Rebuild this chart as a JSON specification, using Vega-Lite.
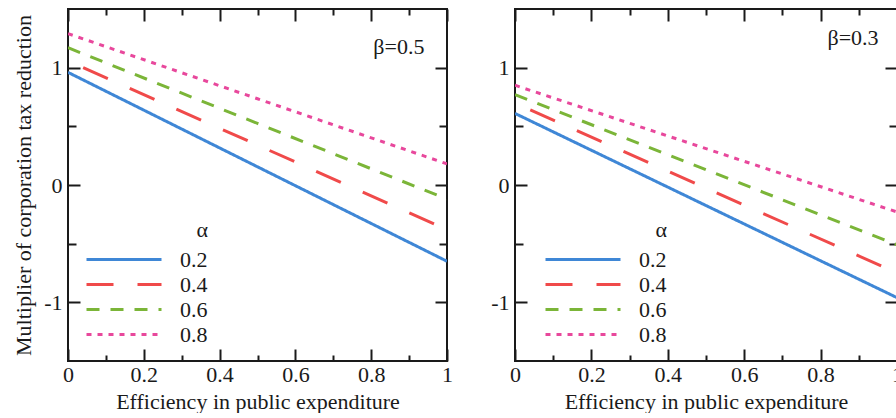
{
  "$schema": "https://vega.github.io/schema/vega-lite/v6.json",
  "background": "white",
  "padding": {"left": 11, "top": 7, "right": 0, "bottom": 0},
  "config": {
    "font": "Liberation Serif",
    "view": {"stroke": "#1a1a1a", "strokeWidth": 2},
    "axis": {
      "domain": false, "grid": false,
      "labelFont": "Liberation Serif", "labelFontSize": 22, "labelColor": "#1a1a1a",
      "titleFont": "Liberation Serif", "titleFontSize": 22, "titleFontWeight": "normal", "titleColor": "#1a1a1a",
      "tickColor": "#1a1a1a", "tickWidth": 2
    },
    "legend": {
      "orient": "none", "legendY": 211,
      "titleFont": "Liberation Serif", "titleFontSize": 22, "titleFontWeight": "normal", "titleColor": "#1a1a1a",
      "titleAnchor": "end", "titlePadding": 4,
      "symbolType": "M-1,0H5.25", "symbolSize": 576, "symbolStrokeWidth": 3, "symbolFillColor": "transparent",
      "labelFont": "Liberation Serif", "labelFontSize": 22, "labelColor": "#1a1a1a", "labelOffset": 68, "rowPadding": 0
    },
    "concat": {"spacing": 68}
  },
  "bounds": "flush",
  "resolve": {
    "scale": {"color": "independent", "strokeDash": "independent"},
    "legend": {"color": "independent", "strokeDash": "independent"}
  },
  "datasets": {
    "b05": [
      {"alpha": "0.2", "efficiency": 0, "multiplier": 0.96},
      {"alpha": "0.2", "efficiency": 0.5, "multiplier": 0.155},
      {"alpha": "0.2", "efficiency": 1, "multiplier": -0.65},
      {"alpha": "0.4", "efficiency": 0.04, "multiplier": 1.0},
      {"alpha": "0.4", "efficiency": 0.5, "multiplier": 0.34},
      {"alpha": "0.4", "efficiency": 1, "multiplier": -0.38},
      {"alpha": "0.6", "efficiency": 0, "multiplier": 1.17},
      {"alpha": "0.6", "efficiency": 0.5, "multiplier": 0.525},
      {"alpha": "0.6", "efficiency": 1, "multiplier": -0.12},
      {"alpha": "0.8", "efficiency": 0, "multiplier": 1.29},
      {"alpha": "0.8", "efficiency": 0.5, "multiplier": 0.735},
      {"alpha": "0.8", "efficiency": 1, "multiplier": 0.18}
    ],
    "b03": [
      {"alpha": "0.2", "efficiency": 0, "multiplier": 0.61},
      {"alpha": "0.2", "efficiency": 0.5, "multiplier": -0.175},
      {"alpha": "0.2", "efficiency": 1, "multiplier": -0.96},
      {"alpha": "0.4", "efficiency": 0.04, "multiplier": 0.64},
      {"alpha": "0.4", "efficiency": 0.5, "multiplier": -0.026},
      {"alpha": "0.4", "efficiency": 1, "multiplier": -0.75},
      {"alpha": "0.6", "efficiency": 0, "multiplier": 0.77},
      {"alpha": "0.6", "efficiency": 0.5, "multiplier": 0.13},
      {"alpha": "0.6", "efficiency": 1, "multiplier": -0.51},
      {"alpha": "0.8", "efficiency": 0, "multiplier": 0.85},
      {"alpha": "0.8", "efficiency": 0.5, "multiplier": 0.31},
      {"alpha": "0.8", "efficiency": 1, "multiplier": -0.23}
    ]
  },
  "hconcat": [
    {
      "width": 379, "height": 352,
      "layer": [
        {
          "data": {"name": "b05"},
          "mark": {"type": "line", "strokeWidth": 3, "clip": true},
          "encoding": {
            "x": {"field": "efficiency", "type": "quantitative",
              "scale": {"domain": [0, 1], "nice": false, "zero": false},
              "axis": {"orient": "bottom", "values": [0, 0.1, 0.2, 0.3, 0.4, 0.5, 0.6, 0.7, 0.8, 0.9, 1],
                "labelExpr": "round(datum.value*10)%2==0 ? '' + datum.value : ''",
                "tickSize": {"condition": {"test": "round(datum.value*10)%2==0", "value": -12}, "value": -6},
                "labelPadding": 15, "labelFlush": false, "labelOverlap": false,
                "title": "Efficiency in public expenditure", "titlePadding": 0}},
            "y": {"field": "multiplier", "type": "quantitative",
              "scale": {"domain": [-1.5, 1.5], "nice": false, "zero": false},
              "axis": {"orient": "left", "values": [-1, -0.5, 0, 0.5, 1],
                "labelExpr": "datum.value%1==0 ? '' + datum.value : ''",
                "tickSize": {"condition": {"test": "datum.value%1==0", "value": -12}, "value": -8},
                "labelPadding": 18, "labelOverlap": false,
                "title": "Multiplier of corporation tax reduction", "titlePadding": 8}},
            "color": {"field": "alpha", "type": "nominal",
              "scale": {"domain": ["0.2", "0.4", "0.6", "0.8"], "range": ["#3f87d6", "#f04a4a", "#7bb538", "#e8489c"]},
              "legend": {"title": "α", "legendX": 17}},
            "strokeDash": {"field": "alpha", "type": "nominal",
              "scale": {"domain": ["0.2", "0.4", "0.6", "0.8"], "range": [[1, 0], [27, 24], [13, 11], [5, 6]]},
              "legend": {"title": "α", "legendX": 17}}
          }
        },
        {
          "data": {"values": [{}]},
          "mark": {"type": "text", "text": "β=0.5", "font": "Liberation Serif", "fontSize": 22, "color": "#1a1a1a"},
          "encoding": {
            "x": {"datum": 0.873, "type": "quantitative",
              "scale": {"domain": [0, 1], "nice": false, "zero": false},
              "axis": {"orient": "top", "values": [0, 0.1, 0.2, 0.3, 0.4, 0.5, 0.6, 0.7, 0.8, 0.9, 1], "labels": false, "title": null,
                "tickSize": {"condition": {"test": "round(datum.value*10)%2==0", "value": -12}, "value": -6}}},
            "y": {"datum": 1.18, "type": "quantitative",
              "scale": {"domain": [-1.5, 1.5], "nice": false, "zero": false},
              "axis": {"orient": "right", "values": [-1, -0.5, 0, 0.5, 1], "labels": false, "title": null,
                "tickSize": {"condition": {"test": "datum.value%1==0", "value": -12}, "value": -8}}}
          }
        }
      ],
      "resolve": {"axis": {"x": "independent", "y": "independent"}}
    },
    {
      "width": 382, "height": 352,
      "layer": [
        {
          "data": {"name": "b03"},
          "mark": {"type": "line", "strokeWidth": 3, "clip": true},
          "encoding": {
            "x": {"field": "efficiency", "type": "quantitative",
              "scale": {"domain": [0, 1], "nice": false, "zero": false},
              "axis": {"orient": "bottom", "values": [0, 0.1, 0.2, 0.3, 0.4, 0.5, 0.6, 0.7, 0.8, 0.9, 1],
                "labelExpr": "round(datum.value*10)%2==0 ? '' + datum.value : ''",
                "tickSize": {"condition": {"test": "round(datum.value*10)%2==0", "value": -12}, "value": -6},
                "labelPadding": 15, "labelFlush": false, "labelOverlap": false,
                "title": "Efficiency in public expenditure", "titlePadding": 0}},
            "y": {"field": "multiplier", "type": "quantitative",
              "scale": {"domain": [-1.5, 1.5], "nice": false, "zero": false},
              "axis": {"orient": "left", "values": [-1, -0.5, 0, 0.5, 1],
                "labelExpr": "datum.value%1==0 ? '' + datum.value : ''",
                "tickSize": {"condition": {"test": "datum.value%1==0", "value": -12}, "value": -8},
                "labelPadding": 18, "labelOverlap": false, "title": null}},
            "color": {"field": "alpha", "type": "nominal",
              "scale": {"domain": ["0.2", "0.4", "0.6", "0.8"], "range": ["#3f87d6", "#f04a4a", "#7bb538", "#e8489c"]},
              "legend": {"title": "α", "legendX": 29}},
            "strokeDash": {"field": "alpha", "type": "nominal",
              "scale": {"domain": ["0.2", "0.4", "0.6", "0.8"], "range": [[1, 0], [27, 24], [13, 11], [5, 6]]},
              "legend": {"title": "α", "legendX": 29}}
          }
        },
        {
          "data": {"values": [{}]},
          "mark": {"type": "text", "text": "β=0.3", "font": "Liberation Serif", "fontSize": 22, "color": "#1a1a1a"},
          "encoding": {
            "x": {"datum": 0.885, "type": "quantitative",
              "scale": {"domain": [0, 1], "nice": false, "zero": false},
              "axis": {"orient": "top", "values": [0, 0.1, 0.2, 0.3, 0.4, 0.5, 0.6, 0.7, 0.8, 0.9, 1], "labels": false, "title": null,
                "tickSize": {"condition": {"test": "round(datum.value*10)%2==0", "value": -12}, "value": -6}}},
            "y": {"datum": 1.25, "type": "quantitative",
              "scale": {"domain": [-1.5, 1.5], "nice": false, "zero": false},
              "axis": {"orient": "right", "values": [-1, -0.5, 0, 0.5, 1], "labels": false, "title": null,
                "tickSize": {"condition": {"test": "datum.value%1==0", "value": -12}, "value": -8}}}
          }
        }
      ],
      "resolve": {"axis": {"x": "independent", "y": "independent"}}
    }
  ]
}
